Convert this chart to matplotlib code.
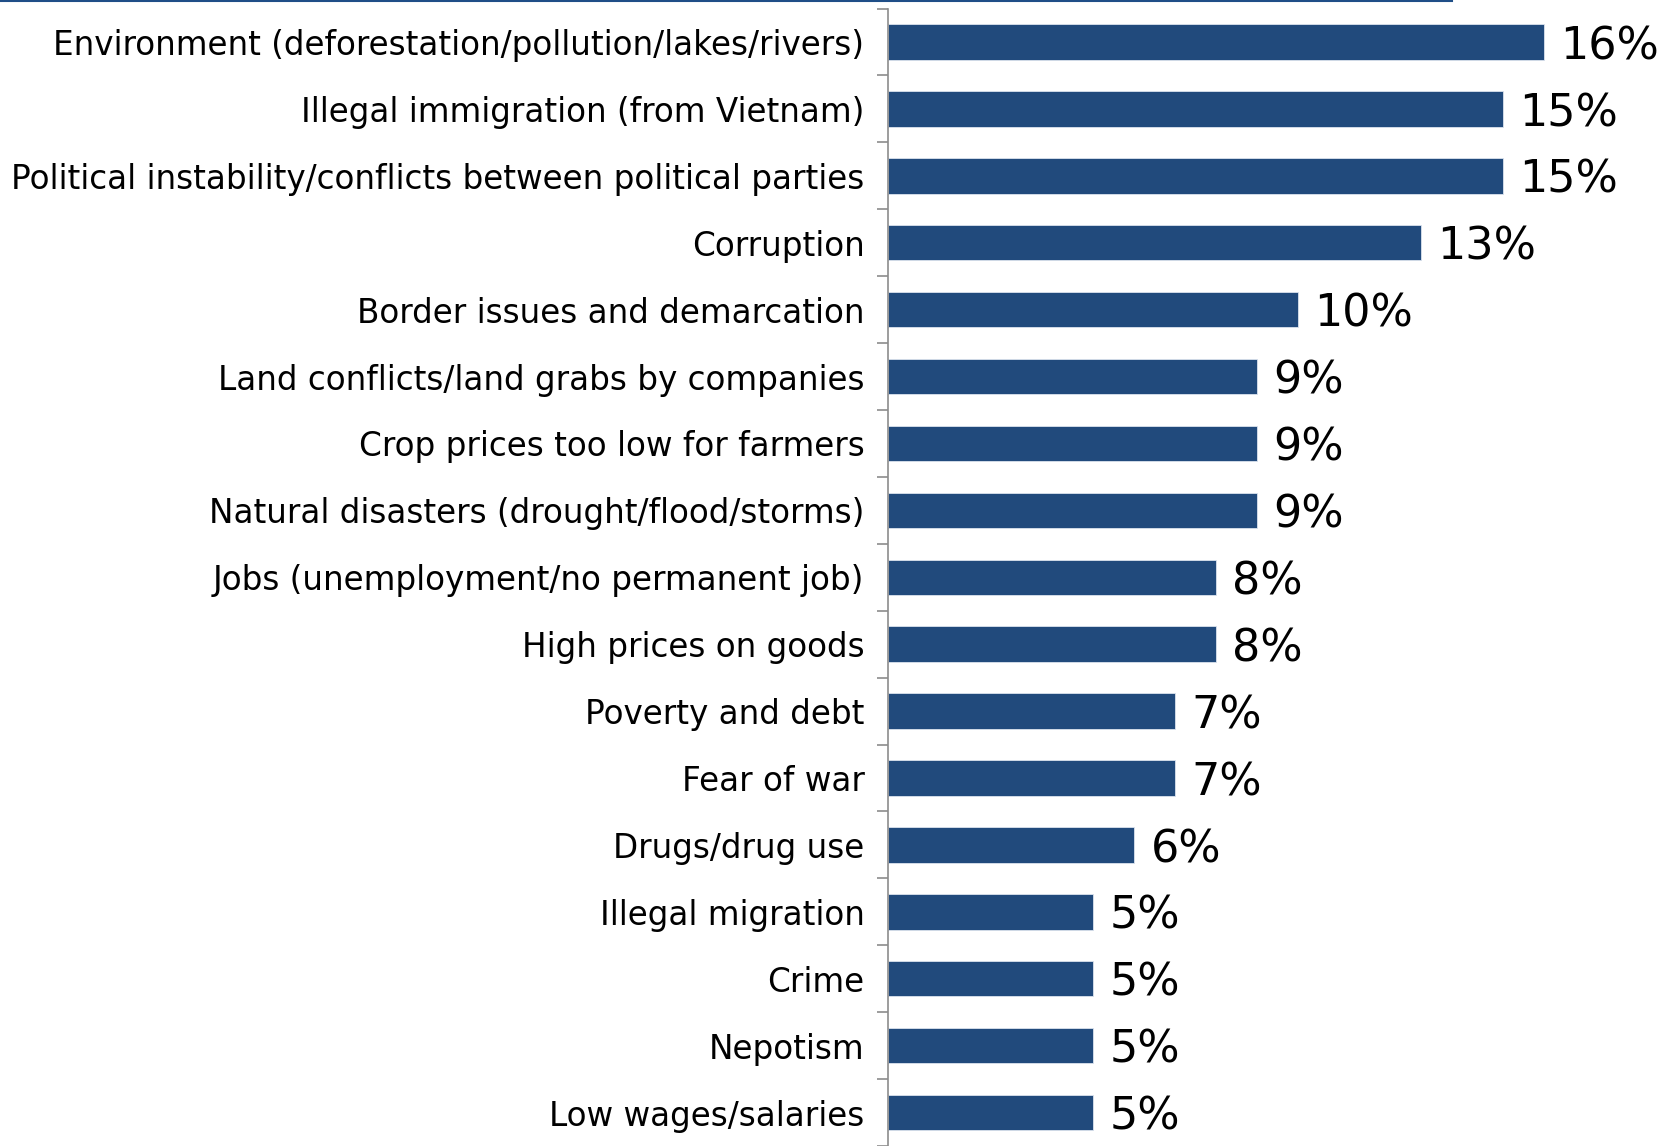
"""Horizontal bar chart of the most cited concerns (share of respondents)."""
import matplotlib
matplotlib.use("Agg")
import matplotlib.pyplot as plt
from matplotlib.lines import Line2D

CATEGORIES = [
    "Environment (deforestation/pollution/lakes/rivers)",
    "Illegal immigration (from Vietnam)",
    "Political instability/conflicts between political parties",
    "Corruption",
    "Border issues and demarcation",
    "Land conflicts/land grabs by companies",
    "Crop prices too low for farmers",
    "Natural disasters (drought/flood/storms)",
    "Jobs (unemployment/no permanent job)",
    "High prices on goods",
    "Poverty and debt",
    "Fear of war",
    "Drugs/drug use",
    "Illegal migration",
    "Crime",
    "Nepotism",
    "Low wages/salaries",
]
VALUES = [16, 15, 15, 13, 10, 9, 9, 9, 8, 8, 7, 7, 6, 5, 5, 5, 5]

BAR_COLOR = "#214a7c"
AXIS_GREY = "#8c8c8c"

plt.rcParams["font.family"] = ["DejaVu Sans"]

W, H = 1668, 1146
fig = plt.figure(figsize=(W / 100, H / 100), dpi=100)
ax = fig.add_axes([888 / W, 0, 1 - 888 / W, (H - 8.5) / H])

ypos = list(range(len(CATEGORIES)))
ax.barh(ypos, VALUES, height=0.53, color=BAR_COLOR, edgecolor="#dbe3ee", linewidth=0.6)

for y, v in zip(ypos, VALUES):
    ax.text(v + 0.4, y + 0.07, f"{v}%", va="center", ha="left", fontsize=32, color="black")

ax.set_ylim(len(CATEGORIES) - 0.5, -0.5)
ax.set_xlim(0, (W - 888) / 41)

ax.set_yticks(ypos)
ax.set_yticklabels(CATEGORIES, fontsize=23.5)
ax.tick_params(axis="y", which="major", length=0, pad=17)
ax.set_yticks([i - 0.5 for i in range(len(CATEGORIES) + 1)], minor=True)
ax.tick_params(axis="y", which="minor", length=8, width=1.2, color=AXIS_GREY, direction="out")
ax.set_xticks([])

for side in ["top", "right", "bottom"]:
    ax.spines[side].set_visible(False)
ax.spines["left"].set_color(AXIS_GREY)
ax.spines["left"].set_linewidth(1.2)

# thin rule across the top of the figure
fig.add_artist(Line2D([0, 1452 / W], [1 - 1 / H, 1 - 1 / H], color="#1f4e87", linewidth=1.5))

fig.savefig("out.png", dpi=100)
